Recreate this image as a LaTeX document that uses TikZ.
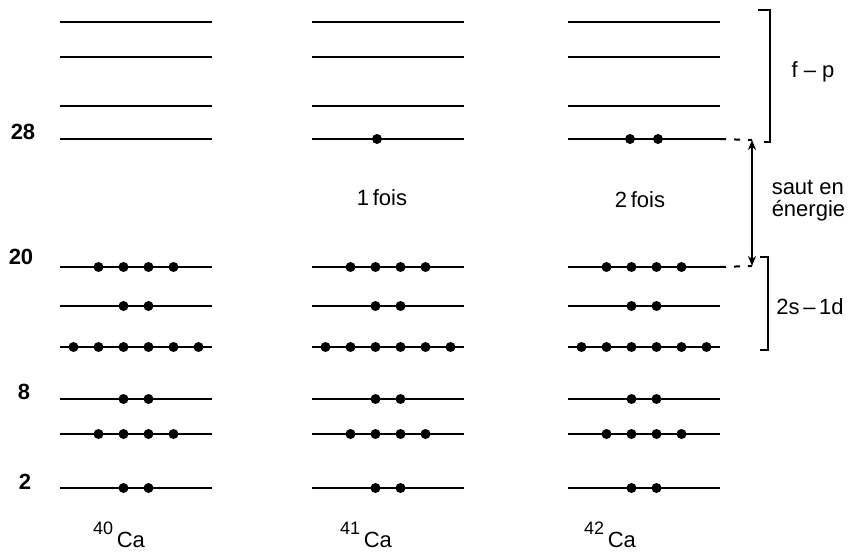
\documentclass[tikz,border=0pt]{standalone}
\usepackage{fontspec}
\setmainfont{Liberation Sans}
\usetikzlibrary{arrows.meta}

\begin{document}
\begin{tikzpicture}[x=0.5pt,y=-0.5pt,
  level/.style={line width=1.2pt},
  ext/.style={line width=1pt, dash pattern=on 3pt off 4pt},
  brk/.style={line width=0.9pt},
  magic/.style={font=\fontsize{11}{12}\selectfont\bfseries}]
  \fontsize{11}{11}\selectfont
  \useasboundingbox (0,0) rectangle (849,557);
  % f-p levels, empty
  \foreach \c in {136,388,644} {
    \foreach \y in {22,57,106,139}
      \draw[level] (\c-76,\y) -- (\c+76,\y);
  }
  \fill (377,139) circle (2.5pt);
  \foreach \d in {-14,14}
    \fill (644+\d,139) circle (2.5pt);
  % 2s-1d and lower levels, full
  \foreach \y/\occ in {
    267/{-37.5,-12.5,12.5,37.5},
    306/{-12.5,12.5},
    347/{-62.5,-37.5,-12.5,12.5,37.5,62.5},
    399/{-12.5,12.5},
    434/{-37.5,-12.5,12.5,37.5},
    488/{-12.5,12.5}} {
    \foreach \c in {136,388,644} {
      \draw[level] (\c-76,\y) -- (\c+76,\y);
      \foreach \d in \occ
        \fill (\c+\d,\y) circle (2.5pt);
    }
  }
  \foreach \n/\x/\y in {28/23/132, 20/21/257, 8/24/392, 2/25/482}
    \node[magic] (m\n) at (\x,\y) {\n};
  \foreach \a/\x in {40/119, 41/366, 42/610}
    \node[anchor=base, inner sep=0pt] (ca\a) at (\x,547) {\raisebox{1.1ex}{\fontsize{9}{9}\selectfont\a}\,Ca};
  \node (fois1) at (382,198) {1\,fois};
  \node (fois2) at (640,200) {2\,fois};
  % gap between shells
  \coordinate (gtop) at (752,140);
  \coordinate (gbot) at (752,266);
  \draw[ext] (720,139) -- (gtop);
  \draw[ext] (720,267) -- (gbot);
  \draw[line width=0.9pt, {Stealth[length=5pt,width=4pt]}-{Stealth[length=5pt,width=4pt]}] (gtop) -- (gbot);
  \node[anchor=west, align=left, font=\fontsize{11}{11}\selectfont] (saut) at (764,201) {saut en\\énergie};
  % brackets
  \draw[brk] (758,10) -- (770,10) -- (770,142) -- (764,142);
  \draw[brk] (760,257) -- (768,257) -- (768,350) -- (760,350);
  \node (fp) at (813,72) {f -- p};
  \node[anchor=west, inner sep=1pt] (sd) at (774,307) {2s\,--\,1d};
\end{tikzpicture}
\end{document}
